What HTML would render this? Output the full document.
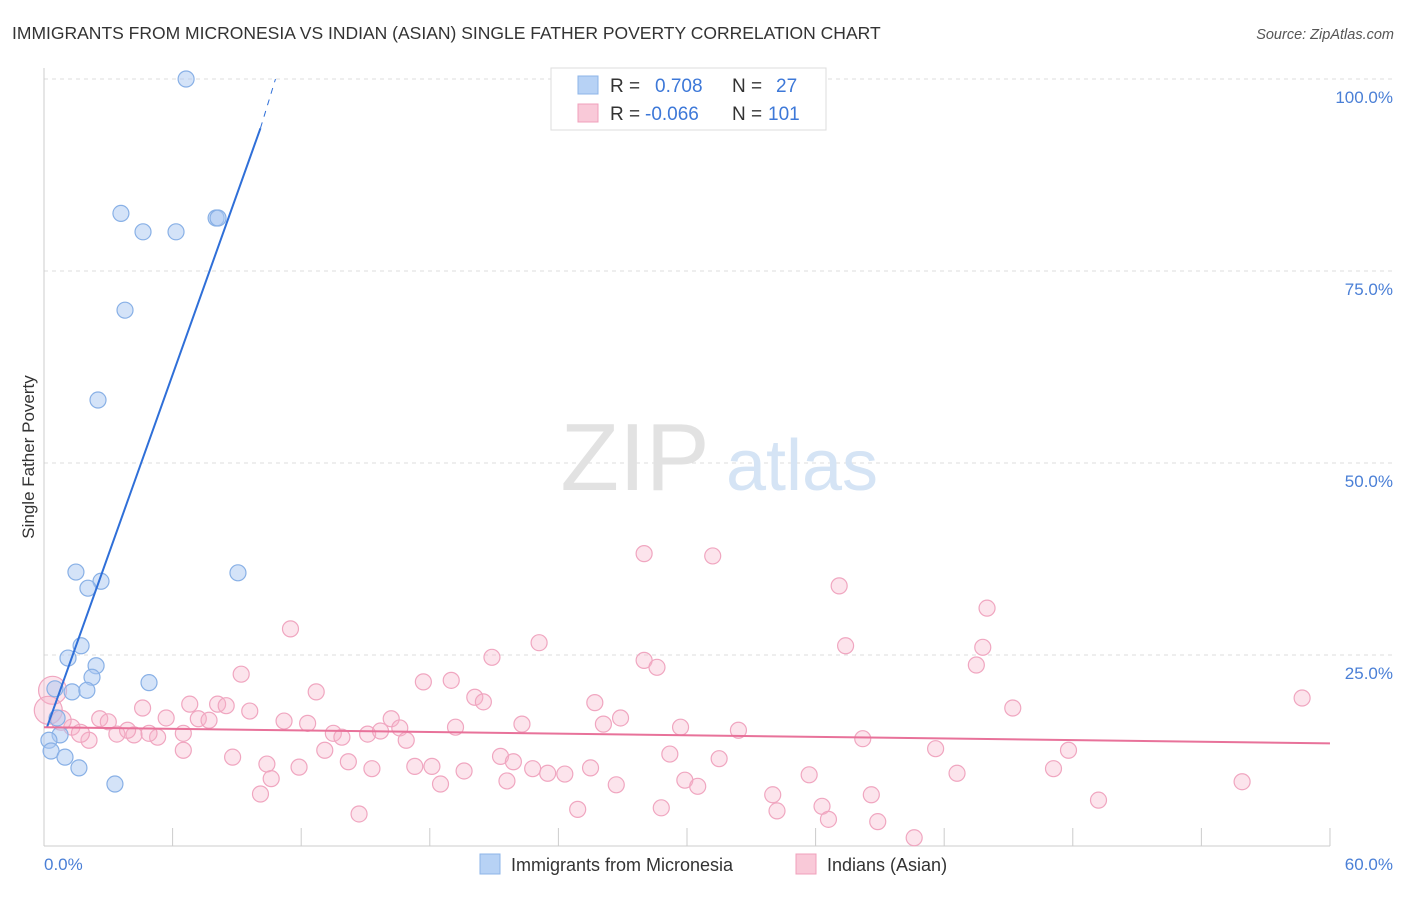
<!DOCTYPE html>
<html><head><meta charset="utf-8"><style>
body{margin:0;background:#fff;font-family:"Liberation Sans",sans-serif}
svg text{font-family:"Liberation Sans",sans-serif}
</style></head><body>
<svg id="chart" width="1406" height="892">
<text x="12" y="39" font-size="17.5" fill="#333">IMMIGRANTS FROM MICRONESIA VS INDIAN (ASIAN) SINGLE FATHER POVERTY CORRELATION CHART</text>
<text x="1394" y="39" font-size="14.5" fill="#555" text-anchor="end" font-style="italic">Source: ZipAtlas.com</text>
<g id="grid"></g>
<g>
<text x="635" y="490" font-size="96" fill="#e2e2e2" font-family="Liberation Serif" text-anchor="middle">ZIP</text>
<text x="802" y="490" font-size="72" fill="#d5e4f5" text-anchor="middle">atlas</text>
</g>
<line x1="44" y1="68" x2="44" y2="846" stroke="#ccc"/>
<line x1="44" y1="846" x2="1330" y2="846" stroke="#ccc"/>
<g id="xticks"></g>
<text x="44" y="870" font-size="17" fill="#4a7fd6">0.0%</text>
<text x="1393" y="870" font-size="17" fill="#4a7fd6" text-anchor="end">60.0%</text>
<text transform="translate(34,457) rotate(-90)" font-size="17" fill="#333" text-anchor="middle">Single Father Poverty</text>
<g id="pink"></g>
<g id="blue"></g>
<g id="lines"></g>
<g>
<rect x="551" y="68" width="275" height="62" fill="#fff" stroke="#ddd"/>
<rect x="578" y="76" width="20" height="18" fill="#b7d2f5" stroke="#8db4e8"/>
<rect x="578" y="104" width="20" height="18" fill="#f9c9d8" stroke="#f0a0bb"/>
<text x="610" y="92" font-size="19" fill="#333">R =</text>
<text x="655" y="92" font-size="19" fill="#3d78d8">0.708</text>
<text x="732" y="92" font-size="19" fill="#333">N =</text>
<text x="776" y="92" font-size="19" fill="#3d78d8">27</text>
<text x="610" y="120" font-size="19" fill="#333">R =</text>
<text x="645" y="120" font-size="19" fill="#3d78d8">-0.066</text>
<text x="732" y="120" font-size="19" fill="#333">N =</text>
<text x="768" y="120" font-size="19" fill="#3d78d8">101</text>
</g>
<g>
<rect x="480" y="854" width="20" height="20" fill="#b7d2f5" stroke="#8db4e8"/>
<text x="511" y="871" font-size="18" fill="#333">Immigrants from Micronesia</text>
<rect x="796" y="854" width="20" height="20" fill="#f9c9d8" stroke="#f0a0bb"/>
<text x="827" y="871" font-size="18" fill="#333">Indians (Asian)</text>
</g>
</svg>
<script>
const yTicks=[100,75,50,25];
const yTickLabels=["100.0%","75.0%","50.0%","25.0%"];
const xTickVals=[0,6,12,18,24,30,36,42,48,54,60];
const blueX=[6.63,3.59,4.62,6.16,8.03,8.12,3.78,2.52,1.49,2.66,2.05,9.05,1.73,1.12,2.43,2.24,4.9,1.31,2.0,0.51,0.61,0.75,0.23,0.33,0.98,1.63,3.31];
const blueY=[100,82.5,80.1,80.1,81.9,81.9,69.9,58.2,35.8,34.6,33.7,35.7,26.2,24.6,23.6,22.1,21.4,20.2,20.4,20.6,16.8,14.6,13.9,12.5,11.7,10.3,8.2];
const pinkX=[28.0,31.2,37.1,44.0,11.5,23.1,37.4,43.8,20.9,28.0,28.6,43.5,9.2,17.7,19.0,12.7,20.1,20.5,25.7,58.7,6.8,8.1,8.5,4.6,9.6,45.2,5.7,7.2,7.7,2.6,3.0,11.2,12.3,16.2,19.2,22.3,26.1,26.9,29.7,32.4,1.3,3.4,4.2,5.3,6.5,4.9,13.5,13.9,15.1,15.7,16.6,16.9,38.2,2.1,3.9,6.5,13.1,21.3,29.2,41.6,47.8,8.8,10.4,14.2,17.3,18.1,19.6,21.9,22.8,23.5,24.3,25.5,31.5,11.9,15.3,42.6,47.1,10.6,21.6,29.9,30.5,35.7,55.9,18.5,26.7,10.1,34.0,38.6,49.2,24.9,28.8,34.2,36.3,36.6,14.7,38.9,40.6,0.4,0.2,0.8,1.7];
const pinkY=[38.2,37.9,34.0,31.1,28.4,26.6,26.2,26.0,24.7,24.3,23.4,23.7,22.5,21.5,21.7,20.2,19.5,18.9,18.8,19.4,18.6,18.6,18.4,18.1,17.7,18.1,16.8,16.7,16.5,16.7,16.3,16.4,16.1,16.7,15.6,16.0,16.0,16.8,15.6,15.2,15.6,14.7,14.6,14.3,14.8,14.8,14.8,14.3,14.7,15.1,15.5,13.9,14.1,13.9,15.2,12.6,12.6,11.8,12.1,12.8,12.6,11.7,10.8,11.1,10.5,10.5,9.9,11.1,10.2,9.6,9.5,10.3,11.5,10.4,10.2,9.6,10.2,8.9,8.6,8.7,7.9,9.4,8.5,8.2,8.1,6.9,6.8,6.8,6.1,4.9,5.1,4.7,5.3,3.6,4.3,3.3,1.2,20.4,17.8,16.5,14.8];
const pinkR=[8,8,8,8,8,8,8,8,8,8,8,8,8,8,8,8,8,8,8,8,8,8,8,8,8,8,8,8,8,8,8,8,8,8,8,8,8,8,8,8,8,8,8,8,8,8,8,8,8,8,8,8,8,8,8,8,8,8,8,8,8,8,8,8,8,8,8,8,8,8,8,8,8,8,8,8,8,8,8,8,8,8,8,8,8,8,8,8,8,8,8,8,8,8,8,8,8,14,14,10,9];
const blueLine=[[0.14,15.6],[10.1,93.6]];
const blueDash=[[10.1,93.6],[10.8,100]];
const pinkLine=[[0,15.6],[60,13.5]];
const NS="http://www.w3.org/2000/svg";
const sx=v=>44+v*21.433, sy=v=>847-v*7.68;
function mk(tag,attrs,parent){const e=document.createElementNS(NS,tag);for(const k in attrs)e.setAttribute(k,attrs[k]);parent.appendChild(e);return e;}
const grid=document.getElementById('grid');
mk('line',{x1:44,x2:1394,y1:79,y2:79,stroke:'#ddd','stroke-dasharray':'4,4'},grid);
yTicks.forEach((t,i)=>{
 const l=mk('line',{x1:44,x2:1394,y1:sy(t),y2:sy(t),stroke:'#ddd','stroke-dasharray':'4,4'},grid);
 
 
 const tx=mk('text',{x:1393,y:sy(t)+24,'font-size':17,fill:'#4a7fd6','text-anchor':'end'},grid);
 tx.textContent=yTickLabels[i];
 
 
});
const xt=document.getElementById('xticks');
xTickVals.forEach(v=>{
 const l=mk('line',{x1:sx(v),x2:sx(v),y1:828,y2:846,stroke:'#ccc'},xt);
 
 
});
const pg=document.getElementById('pink');
pinkX.forEach((x,i)=>{
 const c=mk('circle',{cx:sx(x),cy:sy(pinkY[i]),r:pinkR[i],fill:'rgba(246,178,201,0.35)',stroke:'#f0a6c0','stroke-width':1.2},pg);
 
 
});
const bg=document.getElementById('blue');
blueX.forEach((x,i)=>{
 const c=mk('circle',{cx:sx(x),cy:sy(blueY[i]),r:8,fill:'rgba(170,200,242,0.5)',stroke:'#88b0e6','stroke-width':1.2},bg);
 
 
});
const lg=document.getElementById('lines');
const bl=mk('line',{x1:sx(blueLine[0][0]),y1:sy(blueLine[0][1]),x2:sx(blueLine[1][0]),y2:sy(blueLine[1][1]),stroke:'#2f6fd8','stroke-width':2},lg);


const bd=mk('line',{x1:sx(blueDash[0][0]),y1:sy(blueDash[0][1]),x2:sx(blueDash[1][0]),y2:sy(blueDash[1][1]),stroke:'#2f6fd8','stroke-width':1,'stroke-dasharray':'6,6'},lg);


const pl=mk('line',{x1:sx(pinkLine[0][0]),y1:sy(pinkLine[0][1]),x2:sx(pinkLine[1][0]),y2:sy(pinkLine[1][1]),stroke:'#e8729a','stroke-width':2},lg);


</script>
</body></html>
